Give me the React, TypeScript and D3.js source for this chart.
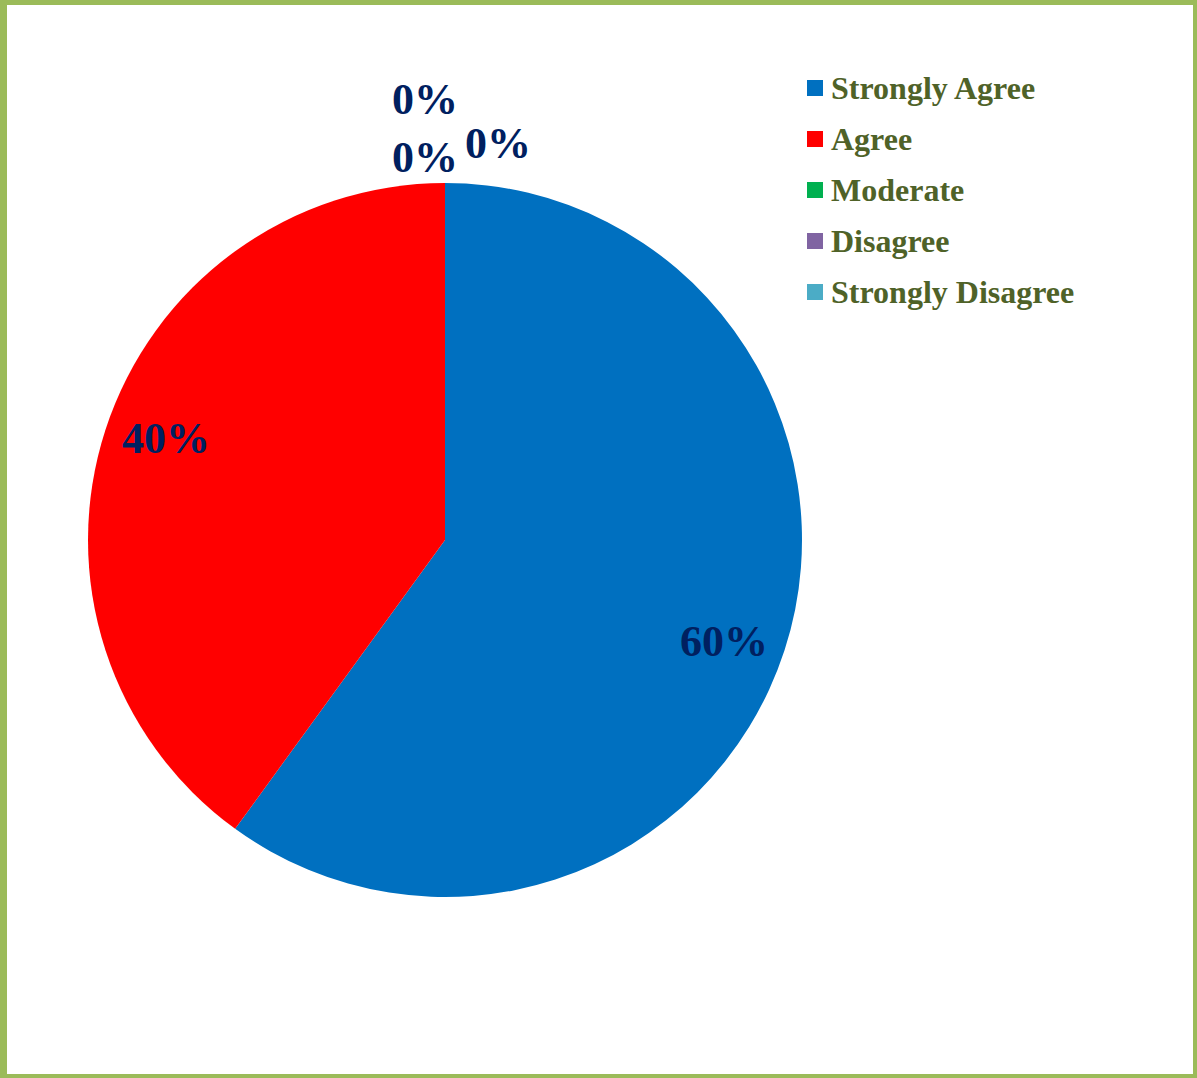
import React from "react";
import * as d3 from "d3";

const categories = ["Strongly Agree", "Agree", "Moderate", "Disagree", "Strongly Disagree"];
const values = [60, 40, 0, 0, 0];
const colors = ["#0070C0", "#FF0000", "#00B050", "#8064A2", "#4BACC6"];
// extra nudges Excel applied to the crowded zero-value labels (outside end)
const zeroLabelNudges: [number, number][] = [
  [53, -40],
  [-20, -26],
  [-20, -84],
];

const W = 1197;
const H = 1078;
const cx = 445;
const cy = 540;
const R = 357;
const LABEL_R = 297;
const LABEL_ROT = (2 * Math.PI) / 180;

export default function App() {
  const total = d3.sum(values);
  const pie = d3
    .pie<number>()
    .sort(null)
    .value((d) => d)
    .startAngle(0)
    .endAngle(2 * Math.PI);
  const arcs = pie(values);
  const arc = d3.arc<d3.PieArcDatum<number>>().innerRadius(0).outerRadius(R);
  const labelArc = d3
    .arc<d3.PieArcDatum<number>>()
    .innerRadius(LABEL_R)
    .outerRadius(LABEL_R);
  const outerArc = d3.arc<d3.PieArcDatum<number>>().innerRadius(R).outerRadius(R);

  const font = "'Liberation Serif', 'Times New Roman', serif";
  const fmt = (v: number) => `${Math.round((v / total) * 100)}%`;

  let zi = 0;
  const legendY = d3.scaleLinear().domain([0, 1]).range([88, 139]);

  return (
    <svg
      width={W}
      height={H}
      style={{ position: "absolute", left: 0, top: 0, display: "block" }}
    >
      <rect x={0} y={0} width={W} height={H} fill="#9BBB59" />
      <rect x={7} y={5} width={1186} height={1069} fill="#FFFFFF" />
      <g transform={`translate(${cx},${cy})`}>
        {arcs.map((a, i) =>
          a.value > 0 ? <path key={i} d={arc(a) || ""} fill={colors[i]} /> : null
        )}
        {arcs.map((a, i) => {
          let x: number, y: number;
          if (a.value > 0) {
            [x, y] = labelArc.centroid({
              ...a,
              startAngle: a.startAngle + LABEL_ROT,
              endAngle: a.endAngle + LABEL_ROT,
            });
          } else {
            const [ox, oy] = outerArc.centroid(a);
            const n = zeroLabelNudges[zi++] || [0, 0];
            x = ox + n[0];
            y = oy + n[1];
          }
          return (
            <text
              key={`l${i}`}
              x={x}
              y={y}
              textAnchor="middle"
              dominantBaseline="central"
              fontFamily={font}
              fontWeight="bold"
              fontSize={44}
              fill="#002060"
            >
              {fmt(a.value)}
            </text>
          );
        })}
      </g>
      <g>
        {categories.map((c, i) => (
          <g key={c} transform={`translate(807,${legendY(i)})`}>
            <rect x={0} y={-8} width={16} height={16} fill={colors[i]} />
            <text
              x={24}
              y={0}
              dominantBaseline="central"
              fontFamily={font}
              fontWeight="bold"
              fontSize={32}
              fill="#4F6228"
            >
              {c}
            </text>
          </g>
        ))}
      </g>
    </svg>
  );
}
